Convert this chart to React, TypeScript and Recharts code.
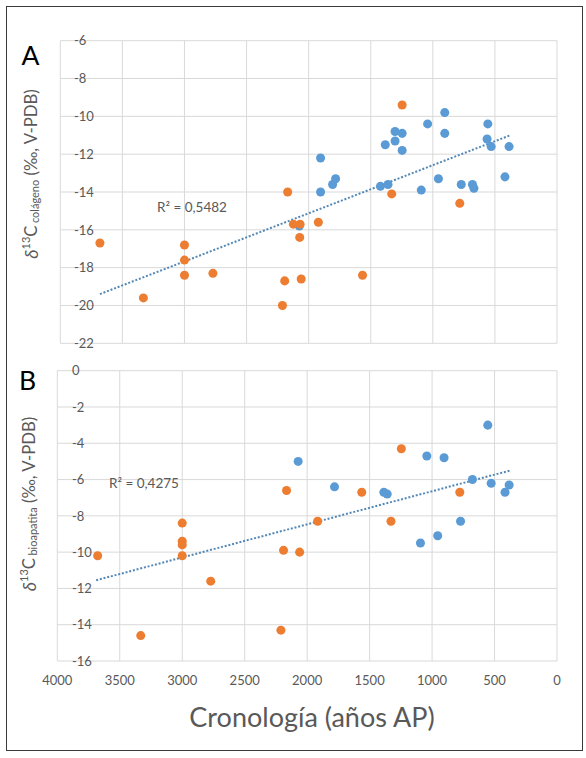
import React from "react";
import {
  ScatterChart,
  Scatter,
  XAxis,
  YAxis,
  CartesianGrid,
  ReferenceLine,
  Label,
} from "recharts";

// ---------- data ----------
const xTicks = [0, 500, 1000, 1500, 2000, 2500, 3000, 3500, 4000];
const yTicksA = [-22, -20, -18, -16, -14, -12, -10, -8, -6];
const yTicksB = [-16, -14, -12, -10, -8, -6, -4, -2, 0];

// Panel A: δ13C colágeno
const colagenoBlue = [
  { x: 2075, y: -15.8 },
  { x: 1904, y: -12.2 },
  { x: 1904, y: -14.0 },
  { x: 1807, y: -13.6 },
  { x: 1783, y: -13.3 },
  { x: 1422, y: -13.7 },
  { x: 1361, y: -13.6 },
  { x: 1383, y: -11.5 },
  { x: 1304, y: -10.8 },
  { x: 1304, y: -11.3 },
  { x: 1247, y: -10.9 },
  { x: 1247, y: -11.8 },
  { x: 1093, y: -13.9 },
  { x: 1042, y: -10.4 },
  { x: 955, y: -13.3 },
  { x: 904, y: -9.8 },
  { x: 904, y: -10.9 },
  { x: 771, y: -13.6 },
  { x: 681, y: -13.6 },
  { x: 669, y: -13.8 },
  { x: 557, y: -10.4 },
  { x: 563, y: -11.2 },
  { x: 530, y: -11.6 },
  { x: 419, y: -13.2 },
  { x: 386, y: -11.6 },
];
const colagenoOrange = [
  { x: 3681, y: -16.7 },
  { x: 3331, y: -19.6 },
  { x: 3000, y: -16.8 },
  { x: 3000, y: -17.6 },
  { x: 3000, y: -18.4 },
  { x: 2771, y: -18.3 },
  { x: 2169, y: -14.0 },
  { x: 2193, y: -18.7 },
  { x: 2211, y: -20.0 },
  { x: 2123, y: -15.7 },
  { x: 2069, y: -15.7 },
  { x: 2072, y: -16.4 },
  { x: 2060, y: -18.6 },
  { x: 1922, y: -15.6 },
  { x: 1566, y: -18.4 },
  { x: 1331, y: -14.1 },
  { x: 1247, y: -9.4 },
  { x: 783, y: -14.6 },
];
const trendA = [
  { x: 3681, y: -19.4 },
  { x: 377, y: -11.0 },
];
const r2A = "R² = 0,5482";

// Panel B: δ13C bioapatita
const bioapatitaBlue = [
  { x: 2072, y: -5.0 },
  { x: 1781, y: -6.4 },
  { x: 1386, y: -6.7 },
  { x: 1359, y: -6.8 },
  { x: 1093, y: -9.5 },
  { x: 1042, y: -4.7 },
  { x: 955, y: -9.1 },
  { x: 904, y: -4.8 },
  { x: 772, y: -8.3 },
  { x: 677, y: -6.0 },
  { x: 554, y: -3.0 },
  { x: 527, y: -6.2 },
  { x: 416, y: -6.7 },
  { x: 383, y: -6.3 },
];
const bioapatitaOrange = [
  { x: 3677, y: -10.2 },
  { x: 3332, y: -14.6 },
  { x: 3000, y: -8.4 },
  { x: 3000, y: -9.4 },
  { x: 3000, y: -9.6 },
  { x: 3000, y: -10.2 },
  { x: 2772, y: -11.6 },
  { x: 2165, y: -6.6 },
  { x: 2189, y: -9.9 },
  { x: 2210, y: -14.3 },
  { x: 2060, y: -10.0 },
  { x: 1916, y: -8.3 },
  { x: 1563, y: -6.7 },
  { x: 1329, y: -8.3 },
  { x: 1246, y: -4.3 },
  { x: 778, y: -6.7 },
];
const trendB = [
  { x: 3689, y: -11.55 },
  { x: 374, y: -5.5 },
];
const r2B = "R² = 0,4275";

// ---------- styles ----------
const FONT = "Lato, 'Open Sans', sans-serif";
const BLUE = "#5B9BD5";
const ORANGE = "#ED7D31";
const TREND = "#5388B6";
const GRID = "#D9D9D9";
const TEXT = "#595959";

const makeYTick = (startX: number) => (props: any) => {
  const { y, payload } = props;
  return (
    <text
      x={startX}
      y={y}
      dy="0.36em"
      textAnchor="start"
      fill={TEXT}
      fontFamily={FONT}
      fontSize={13}
    >
      {payload.value}
    </text>
  );
};

const EmptyTick = () => <g />;

const XTick = (props: any) => {
  const { x, payload } = props;
  return (
    <text
      x={x}
      y={320}
      dy="0.36em"
      textAnchor="middle"
      fill={TEXT}
      fontFamily={FONT}
      fontSize={13}
    >
      {payload.value}
    </text>
  );
};

const makeYLabel = (cx: number, cy: number, sub: string) => () => (
  <text
    x={cx}
    y={cy}
    transform={`rotate(-90 ${cx} ${cy})`}
    textAnchor="middle"
    dominantBaseline="central"
    fill={TEXT}
    fontFamily={FONT}
    fontSize={16.7}
  >
    <tspan fontStyle="italic" fontSize={18}>δ</tspan>
    <tspan fontSize={11} dy={-6}>13</tspan>
    <tspan dy={6}>C</tspan>
    <tspan fontSize={11} dy={3} dx={2.5}>{sub}</tspan>
    <tspan dy={-3}>{"\u00A0(‰, V-PDB)"}</tspan>
  </text>
);

const XLabel = () => (
  <text
    x={312}
    y={367}
    textAnchor="middle"
    fill={TEXT}
    fontFamily={FONT}
    fontSize={27}
  >
    Cronología (años AP)
  </text>
);

export default function App() {
  return (
    <div
      style={{
        position: "absolute",
        left: 0,
        top: 0,
        width: 586,
        height: 758,
        background: "#fff",
        overflow: "hidden",
      }}
    >
      <div
        style={{
          position: "absolute",
          left: 6,
          top: 6,
          width: 575,
          height: 743,
          border: "1.5px solid #3a3a3a",
        }}
      />
      {/* Panel A */}
      <div style={{ position: "absolute", left: 0, top: 0 }}>
        <ScatterChart
          width={586}
          height={360}
          margin={{ top: 40.7, right: 29, bottom: 15.7, left: 59.3 }}
        >
          <CartesianGrid stroke={GRID} strokeWidth={1} />
          <XAxis
            type="number"
            dataKey="x"
            domain={[0, 4000]}
            ticks={xTicks}
            interval={0}
            reversed
            height={1}
            tick={EmptyTick}
            axisLine={false}
            tickLine={false}
          />
          <YAxis
            type="number"
            dataKey="y"
            domain={[-22, -6]}
            ticks={yTicksA}
            interval={0}
            width={1}
            axisLine={false}
            tickLine={false}
            tick={makeYTick(74)}
          >
            <Label content={makeYLabel(31, 174, "colágeno")} />
          </YAxis>
          <Scatter data={colagenoBlue} fill={BLUE} isAnimationActive={false} />
          <Scatter data={colagenoOrange} fill={ORANGE} isAnimationActive={false} />
          <ReferenceLine
            segment={trendA}
            stroke={TREND}
            strokeWidth={2}
            strokeDasharray="2 1.8"
          />
        </ScatterChart>
      </div>
      {/* Panel B */}
      <div style={{ position: "absolute", left: 0, top: 360 }}>
        <ScatterChart
          width={586}
          height={398}
          margin={{ top: 10.7, right: 29, bottom: 67, left: 56.3 }}
        >
          <CartesianGrid stroke={GRID} strokeWidth={1} />
          <XAxis
            type="number"
            dataKey="x"
            domain={[0, 4000]}
            ticks={xTicks}
            interval={0}
            reversed
            height={30}
            axisLine={false}
            tickLine={false}
            tick={XTick}
          >
            <Label content={XLabel} />
          </XAxis>
          <YAxis
            type="number"
            dataKey="y"
            domain={[-16, 0]}
            ticks={yTicksB}
            interval={0}
            width={1}
            axisLine={false}
            tickLine={false}
            tick={makeYTick(72)}
          >
            <Label content={makeYLabel(29, 144, "bioapatita")} />
          </YAxis>
          <Scatter data={bioapatitaBlue} fill={BLUE} isAnimationActive={false} />
          <Scatter data={bioapatitaOrange} fill={ORANGE} isAnimationActive={false} />
          <ReferenceLine
            segment={trendB}
            stroke={TREND}
            strokeWidth={2}
            strokeDasharray="2 1.8"
          />
        </ScatterChart>
      </div>
      {/* Overlay text */}
      <svg
        width={586}
        height={758}
        style={{ position: "absolute", left: 0, top: 0, pointerEvents: "none" }}
      >
        <text x={21.5} y={65} fontFamily={FONT} fontSize={26.5} fill="#000">
          A
        </text>
        <text x={19} y={390} fontFamily={FONT} fontSize={26.5} fill="#000">
          B
        </text>
        <text x={157} y={207} dy="0.36em" fontFamily={FONT} fontSize={13.5} fill={TEXT}>
          {r2A}
        </text>
        <text x={109} y={483} dy="0.36em" fontFamily={FONT} fontSize={13.5} fill={TEXT}>
          {r2B}
        </text>
      </svg>
    </div>
  );
}
